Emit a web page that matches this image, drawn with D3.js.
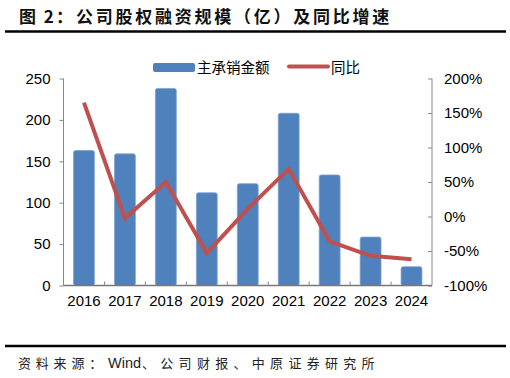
<!DOCTYPE html>
<html><head><meta charset="utf-8">
<script src="https://cdn.jsdelivr.net/npm/d3@7"></script>
<style>body{margin:0;background:#fff}svg{display:block}</style>
</head><body>
<svg id="c" width="510" height="378"></svg>
<script>
const categories = ["2016","2017","2018","2019","2020","2021","2022","2023","2024"];
const underwriting = [163, 159, 238, 112, 123, 208, 133.5, 58.5, 22.7];
const yoy = [165, -2.5, 50, -53, 11, 69, -36, -57, -62];
const leftTicks = [0, 50, 100, 150, 200, 250];
const rightTicks = [-100, -50, 0, 50, 100, 150, 200];
const titleHead = "图 2：";
const titleBody = "公司股权融资规模（亿）及同比增速";
const sourceParts = ["资料来源：", "Wind", "、公司财报、中原证券研究所"];
const seriesNames = ["主承销金额", "同比"];

const svg = d3.select("#c");
const L = 63.5, R = 432, T = 78.5, B = 285.5;
const font = "'Liberation Sans', Arial, sans-serif";
const cjk = "'Noto Sans CJK SC', sans-serif";

const tt = svg.append("text").attr("y", 22.5).attr("font-family", cjk)
  .attr("font-weight", "bold").attr("font-size", 17).attr("fill", "#111");
tt.append("tspan").attr("x", 19).attr("letter-spacing", 2).text(titleHead);
tt.append("tspan").attr("x", 76).attr("letter-spacing", 2.75).text(titleBody);
svg.append("line").attr("x1", 5).attr("x2", 506).attr("y1", 31.5).attr("y2", 31.5)
  .attr("stroke", "#000").attr("stroke-width", 2.5);
svg.append("line").attr("x1", 5).attr("x2", 506).attr("y1", 346).attr("y2", 346)
  .attr("stroke", "#000").attr("stroke-width", 2.5);
const st = svg.append("text").attr("y", 368).attr("font-family", cjk)
  .attr("font-size", 13).attr("fill", "#222");
st.append("tspan").attr("x", 18).attr("letter-spacing", 4.8).text(sourceParts[0]);
st.append("tspan").attr("x", 108).attr("font-family", font).attr("font-size", 14.5).text(sourceParts[1]);
st.append("tspan").attr("x", 142).attr("letter-spacing", 5.3).text(sourceParts[2]);

const x = d3.scaleBand().domain(categories).range([L, R]).paddingInner(0.49).paddingOuter(0.245);
const xb = d3.scaleBand().domain(categories).range([L, R]);
const y = d3.scaleLinear().domain([0, 250]).range([B, T]);
const y2 = d3.scaleLinear().domain([-100, 200]).range([B, T]);

// bars
svg.append("g").selectAll("rect").data(categories).join("rect")
  .attr("x", d => x(d)).attr("width", x.bandwidth())
  .attr("y", (d, i) => y(underwriting[i])).attr("height", (d, i) => B - y(underwriting[i]))
  .attr("rx", 2).attr("fill", "#4F81BD").attr("stroke", "#7FA3D0").attr("stroke-width", 0.8);

// left axis
const gl = svg.append("g").attr("transform", `translate(${L},0)`)
  .call(d3.axisLeft(y).tickValues(leftTicks).tickSize(4).tickPadding(9));
gl.selectAll("text").attr("font-family", font).attr("font-size", 15).attr("fill", "#000");
gl.selectAll("line").attr("stroke", "#888");
gl.select(".domain").attr("stroke", "#888").attr("d", `M0,${B}V${T}`);

// right axis
const gr = svg.append("g").attr("transform", `translate(${R},0)`)
  .call(d3.axisRight(y2).tickValues(rightTicks).tickSize(0).tickPadding(12).tickFormat(d => d + "%"));
gr.selectAll("text").attr("font-family", font).attr("font-size", 15).attr("fill", "#000");
gr.select(".domain").attr("stroke", "#888").attr("d", `M0,${B}V${T}`);
gr.selectAll(".tick").append("line").attr("x1", -4).attr("x2", 0).attr("stroke", "#888");

// bottom axis
const gb = svg.append("g").attr("transform", `translate(0,${B})`)
  .call(d3.axisBottom(xb).tickSize(0).tickPadding(10));
gb.selectAll("text").attr("font-family", font).attr("font-size", 15).attr("fill", "#000");
gb.select(".domain").attr("stroke", "#777").attr("stroke-width", 1.3).attr("d", `M${L},0H${R}`);
svg.append("g").selectAll("line").data(categories.slice(1)).join("line")
  .attr("x1", d => xb(d)).attr("x2", d => xb(d)).attr("y1", B - 4).attr("y2", B)
  .attr("stroke", "#888");

// line
const line = d3.line().x((d, i) => xb(categories[i]) + xb.bandwidth() / 2).y(d => y2(d));
svg.append("path").datum(yoy).attr("d", line).attr("fill", "none")
  .attr("stroke", "#C0504D").attr("stroke-width", 4).attr("stroke-linejoin", "miter");

// legend
const lg = svg.append("g");
lg.append("rect").attr("x", 153).attr("y", 63).attr("width", 42).attr("height", 9)
  .attr("rx", 2).attr("fill", "#4F81BD");
lg.append("text").attr("x", 197).attr("y", 72.5).attr("font-family", cjk).attr("font-size", 14.5)
  .attr("fill", "#000").text(seriesNames[0]);
lg.append("line").attr("x1", 289).attr("x2", 328).attr("y1", 66.5).attr("y2", 66.5)
  .attr("stroke", "#C0504D").attr("stroke-width", 4).attr("stroke-linecap", "round");
lg.append("text").attr("x", 331).attr("y", 72.5).attr("font-family", cjk).attr("font-size", 14.5)
  .attr("fill", "#000").text(seriesNames[1]);
</script>
</body></html>
